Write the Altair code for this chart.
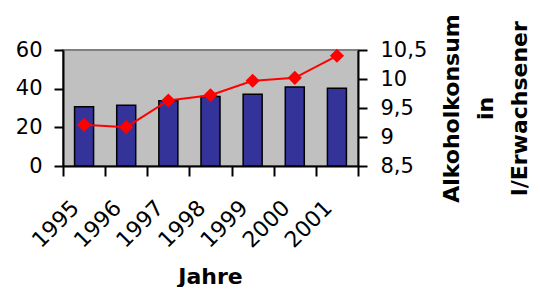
import altair as alt
import pandas as pd

years = ["1995", "1996", "1997", "1998", "1999", "2000", "2001"]
bar_values = [30.7, 31.4, 33.8, 35.9, 37.1, 40.9, 40.2]
line_values = [9.21, 9.17, 9.63, 9.72, 9.97, 10.02, 10.40]
left_ticks = [0, 20, 40, 60]
right_ticks = [8.5, 9, 9.5, 10, 10.5]
right_title = ["Alkoholkonsum", "in", "l/Erwachsener"]
x_title = "Jahre"

df = pd.DataFrame({"Jahr": years, "Wert": bar_values, "Konsum": line_values})

FONT = "DejaVu Sans"

x_enc = alt.X(
    "Jahr:N",
    sort=years,
    scale=alt.Scale(paddingInner=0, paddingOuter=0),
    axis=alt.Axis(
        title=x_title,
        labelAngle=315,
        labelAlign="right",
        labelBaseline="middle",
        labelFontSize=22,
        tickBand="extent",
        tickSize=10,
        labelPadding=28,
        labelOffset=-9,
        titleX=147,
        titleY=117,
        titleBaseline="alphabetic",
        titleAlign="center",
        titleFontSize=22,
        titleFontWeight="bold",
    ),
)

bars = alt.Chart(df).mark_bar(
    size=19, color="#333399", stroke="black", strokeWidth=1.5
).encode(
    x=x_enc,
    y=alt.Y(
        "Wert:Q",
        scale=alt.Scale(domain=[0, 60], nice=False),
        axis=alt.Axis(values=left_ticks, title=None, orient="left",
                      tickSize=9, labelPadding=12),
    ),
)

line = alt.Chart(df).mark_line(
    color="#FF0000", strokeWidth=2,
    point=alt.OverlayMarkDef(shape="diamond", size=200, filled=True, color="#FF0000"),
).encode(
    x=x_enc,
    y=alt.Y(
        "Konsum:Q",
        scale=alt.Scale(domain=[8.5, 10.5], nice=False, zero=False),
        axis=alt.Axis(
            orient="right",
            values=right_ticks,
            title=right_title,
            labelExpr="replace(format(datum.value, '.1~f'), '.', ',')",
            tickSize=9,
            labelPadding=13,
            titleAngle=270,
            titleBaseline="top",
            titleAlign="center",
            titleX=83,
            titleY=58,
            titleFontSize=22,
            titleFontWeight="bold",
            titleLineHeight=34,
        ),
    ),
)

chart = alt.layer(bars, line).resolve_scale(y="independent").properties(
    width=295,
    height=116,
    autosize=alt.AutoSizeParams(type="none"),
    padding={"left": 55, "top": 42, "right": 174, "bottom": 121},
).configure_view(
    fill="#C0C0C0", stroke="#808080", strokeWidth=2
).configure_axis(
    labelFont=FONT,
    titleFont=FONT,
    labelFontSize=21,
    labelColor="black",
    titleColor="black",
    domainColor="black",
    domainWidth=2,
    tickColor="black",
    tickWidth=2,
    grid=False,
    labelFlush=False,
    labelOverlap=False,
)

chart.save("out.html", embed_options={"renderer": "svg", "actions": False})
